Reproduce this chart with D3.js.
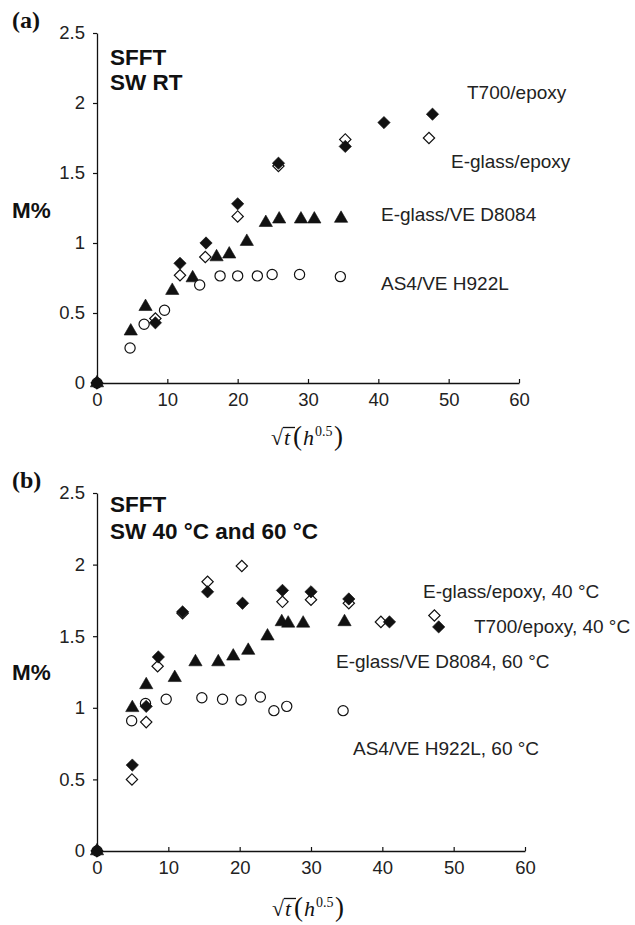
<!DOCTYPE html>
<html lang="en">
<head>
<meta charset="utf-8">
<title>SFFT moisture uptake</title>
<script src="https://cdn.jsdelivr.net/npm/d3@7"></script>
<style>
	body {
		margin: 0;
		background: #fff;
		font-family: "Liberation Sans", Arial, sans-serif;
	}
	svg text { font-family: "Liberation Sans", Arial, Helvetica, sans-serif; }
	.tick text { font-size: 18.5px; fill: #222; }
	.note { font-size: 19px; fill: #222; }
	.head { font-size: 22.5px; font-weight: bold; fill: #111; }
	svg text.serif { font-family: "Liberation Serif", "Times New Roman", serif; }
</style>
</head>
<body>
<div id="chart"></div>
<script>
// axis ticks (both panels)
var xTicks = [0, 10, 20, 30, 40, 50, 60];
var yTicks = [0, 0.5, 1, 1.5, 2, 2.5];

// panel (a): SW RT, [sqrt(t), M%]
var aT700 = [[0, 0], [8.3, 0.43], [11.8, 0.855], [15.5, 1.0], [20.0, 1.28], [25.8, 1.57], [35.3, 1.69], [40.8, 1.86], [47.7, 1.92]];
var aEglassEpoxy = [[0, 0], [8.3, 0.46], [11.8, 0.77], [15.4, 0.9], [20.0, 1.19], [25.8, 1.55], [35.3, 1.74], [47.2, 1.75]];
var aEglassVE = [[0, 0], [4.8, 0.37], [6.9, 0.545], [10.7, 0.66], [13.6, 0.75], [17.0, 0.9], [18.8, 0.92], [21.3, 1.01], [24.0, 1.145], [25.9, 1.17], [29.0, 1.17], [30.9, 1.17], [34.7, 1.175]];
var aAS4 = [[0, 0], [4.7, 0.25], [6.7, 0.42], [9.6, 0.52], [14.6, 0.7], [17.5, 0.765], [20.0, 0.765], [22.8, 0.765], [24.9, 0.775], [28.8, 0.775], [34.6, 0.76]];

// panel (b): SW 40 °C and 60 °C
var bEglassEpoxy = [[0, 0], [4.9, 0.5], [6.9, 0.9], [8.5, 1.29], [12.0, 1.66], [15.5, 1.88], [20.3, 1.99], [26.0, 1.74], [30.0, 1.755], [35.3, 1.73], [39.8, 1.6], [47.3, 1.645]];
var bT700 = [[0, 0], [4.95, 0.6], [6.9, 1.01], [8.6, 1.355], [12.0, 1.67], [15.5, 1.81], [20.4, 1.73], [26.0, 1.82], [30.0, 1.81], [35.3, 1.76], [41.0, 1.6], [47.9, 1.565]];
var bEglassVE = [[0, 0], [4.95, 1.0], [6.9, 1.16], [10.9, 1.21], [13.8, 1.32], [17.0, 1.32], [19.1, 1.36], [21.2, 1.4], [23.9, 1.5], [25.9, 1.6], [26.8, 1.59], [28.9, 1.59], [34.7, 1.6]];
var bAS4 = [[0, 0], [4.86, 0.91], [6.8, 1.03], [9.7, 1.06], [14.7, 1.07], [17.6, 1.06], [20.2, 1.055], [22.9, 1.075], [24.8, 0.98], [26.6, 1.01], [34.5, 0.98]];

var width = 635, height = 925;

var svg = d3.select("#chart").append("svg")
	.attr("width", width)
	.attr("height", height);

// marker shapes
var diamondFilled = d3.symbol().type(d3.symbolSquare).size(76)();
var diamondOpen = d3.symbol().type(d3.symbolSquare).size(64)();
var triangle = d3.symbol().type(d3.symbolTriangle).size(76)();
var circle = d3.symbol().type(d3.symbolCircle).size(82)();

function drawPanel(p) {
	var x = d3.scaleLinear().domain([0, 60]).range([p.left, p.right]);
	var y = d3.scaleLinear().domain([0, 2.5]).range([p.bottom, p.top]);
	var g = svg.append("g");

	g.append("g")
		.attr("transform", "translate(" + p.left + ",0)")
		.call(d3.axisLeft(y).tickValues(yTicks).tickFormat(String)
			.tickSizeInner(4).tickSizeOuter(0).tickPadding(8));
	g.append("g")
		.attr("transform", "translate(0," + p.bottom + ")")
		.call(d3.axisBottom(x).tickValues(xTicks).tickFormat(String)
			.tickSizeInner(-4).tickSizeOuter(0).tickPadding(10));
	g.selectAll(".domain").attr("stroke", "#111").attr("stroke-width", 1.3);
	g.selectAll(".tick line").attr("stroke", "#111").attr("stroke-width", 1.2);

	p.series.forEach(function(s) {
		g.append("g").selectAll("path")
			.data(s.data)
			.enter()
			.append("path")
			.attr("d", s.shape)
			.attr("transform", function(d) {
				return "translate(" + x(d[0]) + "," + y(d[1]) + ")" + (s.rotate ? " rotate(45)" : "");
			})
			.attr("fill", s.fill)
			.attr("stroke", "#111")
			.attr("stroke-width", s.fill == "#fff" ? 1.2 : 0.6);
	});

	// panel letter
	g.append("text").attr("class", "serif")
		.attr("x", 12).attr("y", p.top - 5)
		.attr("font-weight", "bold").attr("font-size", 24)
		.attr("fill", "#111")
		.text(p.letter);

	// heading lines
	p.heads.forEach(function(t, i) {
		g.append("text").attr("class", "head")
			.attr("x", 110).attr("y", p.headY + i * p.headGap)
			.text(t);
	});

	g.append("text").attr("class", "head")
		.attr("x", 12).attr("y", p.mY)
		.text("M%");

	p.notes.forEach(function(n) {
		g.append("text").attr("class", "note")
			.attr("x", n[1]).attr("y", n[2])
			.text(n[0]);
	});

	// x label: sqrt(t) (h^0.5)
	var lab = g.append("g")
		.attr("transform", "translate(" + p.labX + "," + p.labY + ")")
		.attr("fill", "#111");
	lab.append("text").attr("class", "serif").attr("x", 0).attr("y", 0)
		.attr("font-size", 22).attr("font-weight", "bold").text("\u221A");
	lab.append("line")
		.attr("x1", 12).attr("x2", 24).attr("y1", -17.5).attr("y2", -17.5)
		.attr("stroke", "#111").attr("stroke-width", 1.3);
	lab.append("text").attr("class", "serif").attr("x", 13).attr("y", 0)
		.attr("font-size", 22).attr("font-style", "italic").text("t");
	lab.append("text").attr("class", "serif").attr("x", 22).attr("y", 0)
		.attr("font-size", 27).text("(");
	lab.append("text").attr("class", "serif").attr("x", 32).attr("y", 0)
		.attr("font-size", 22).attr("font-style", "italic").text("h");
	lab.append("text").attr("class", "serif").attr("x", 44).attr("y", -9)
		.attr("font-size", 14).text("0.5");
	lab.append("text").attr("class", "serif").attr("x", 63).attr("y", 0)
		.attr("font-size", 27).text(")");
}

drawPanel({
	left: 97, right: 519, top: 33, bottom: 383,
	letter: "(a)",
	heads: ["SFFT", "SW RT"], headY: 65, headGap: 25,
	mY: 218,
	labX: 271, labY: 445,
	series: [
		{data: aEglassVE, shape: triangle, fill: "#111"},
		{data: aAS4, shape: circle, fill: "#fff"},
		{data: aEglassEpoxy, shape: diamondOpen, fill: "#fff", rotate: true},
		{data: aT700, shape: diamondFilled, fill: "#111", rotate: true}
	],
	notes: [
		["T700/epoxy", 467, 99],
		["E-glass/epoxy", 451, 168],
		["E-glass/VE D8084", 381, 221],
		["AS4/VE H922L", 381, 290]
	]
});

drawPanel({
	left: 97, right: 525, top: 493, bottom: 851,
	letter: "(b)",
	heads: ["SFFT", "SW 40 \u00B0C and 60 \u00B0C"], headY: 512, headGap: 27,
	mY: 680,
	labX: 272, labY: 916,
	series: [
		{data: bEglassVE, shape: triangle, fill: "#111"},
		{data: bAS4, shape: circle, fill: "#fff"},
		{data: bEglassEpoxy, shape: diamondOpen, fill: "#fff", rotate: true},
		{data: bT700, shape: diamondFilled, fill: "#111", rotate: true}
	],
	notes: [
		["E-glass/epoxy, 40 \u00B0C", 423, 598],
		["T700/epoxy, 40 \u00B0C", 474, 633],
		["E-glass/VE D8084, 60 \u00B0C", 336, 668],
		["AS4/VE H922L, 60 \u00B0C", 353, 755]
	]
});
</script>
</body>
</html>
